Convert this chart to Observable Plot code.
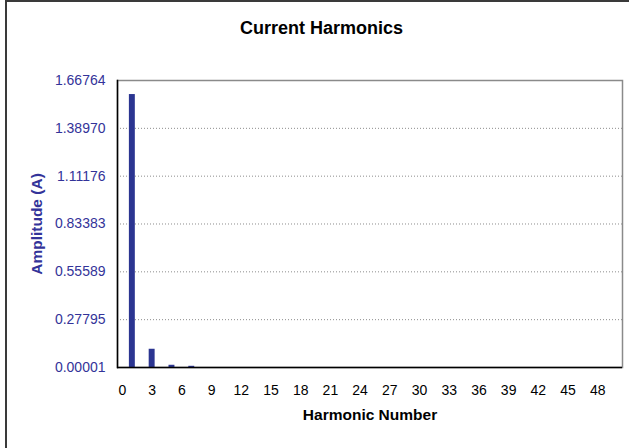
<!DOCTYPE html>
<html>
<head>
<meta charset="utf-8">
<script src="https://cdn.jsdelivr.net/npm/d3@7"></script>
<script src="https://cdn.jsdelivr.net/npm/@observablehq/plot@0.6"></script>
<style>
  body { margin: 0; background: #fff; font-family: "Liberation Sans", Arial, sans-serif; }
  #wrap { position: relative; width: 629px; height: 448px; overflow: hidden; background: #fff; }
  #border { position: absolute; left: 5px; top: 0px; width: 700px; height: 600px;
            border-left: 2px solid #3a3a3a; border-top: 2px solid #3a3a3a; pointer-events: none; }
  #title { height: 54px; line-height: 56px; text-align: center; padding-left: 14px;
           font-size: 18px; font-weight: bold; color: #000; }
  svg [aria-label="y-axis label"] { font-weight: bold; font-size: 15.5px; }
  svg [aria-label="x-axis label"] { font-weight: bold; font-size: 15.5px; }
</style>
</head>
<body>
<div id="wrap">
  <div id="title">Current Harmonics</div>
  <div id="chart"></div>
  <div id="border"></div>
</div>
<script>
// Harmonic numbers (categories)
const harmonics = [0,1,2,3,4,5,6,7,8,9,10,11,12,13,14,15,16,17,18,19,20,21,22,23,24,25,
                   26,27,28,29,30,31,32,33,34,35,36,37,38,39,40,41,42,43,44,45,46,47,48,49,50];
// Amplitude (A) per harmonic
const amplitudes = [0, 1.586, 0, 0.106, 0, 0.013, 0, 0.007, 0, 0, 0, 0, 0, 0, 0, 0, 0, 0, 0, 0,
                    0, 0, 0, 0, 0, 0, 0, 0, 0, 0, 0, 0, 0, 0, 0, 0, 0, 0, 0, 0,
                    0, 0, 0, 0, 0, 0, 0, 0, 0, 0, 0];
// Axis ticks
const xTicks = [0,3,6,9,12,15,18,21,24,27,30,33,36,39,42,45,48];
const yTicks = [0.00001, 0.27795, 0.55589, 0.83383, 1.11176, 1.38970, 1.66764];
const yTickLabels = ["0.00001","0.27795","0.55589","0.83383","1.11176","1.38970","1.66764"];
const gridTicks = [0.27795, 0.55589, 0.83383, 1.11176, 1.38970];

const data = harmonics.map((h, i) => ({h, a: amplitudes[i]}));

const chart = Plot.plot({
  width: 629,
  height: 394,
  marginTop: 26,
  marginBottom: 81,
  marginLeft: 117,
  marginRight: 7,
  style: { fontFamily: "'Liberation Sans', Arial, sans-serif", background: "transparent" },
  x: { type: "band", domain: harmonics, paddingInner: 0.4, paddingOuter: 0.2 },
  y: { domain: [yTicks[0], yTicks[yTicks.length - 1]] },
  marks: [
    Plot.ruleY(gridTicks, { stroke: "#8c8c8c", strokeDasharray: "1,2", strokeWidth: 1 }),
    Plot.frame({ stroke: "#8a8a8a", strokeWidth: 1.5 }),
    Plot.barY(data, { x: "h", y: "a", fill: "#2b3591" }),
    Plot.ruleY([yTicks[0]], { stroke: "#000", strokeWidth: 1.5 }),
    Plot.frame({ anchor: "left", stroke: "#000", strokeWidth: 1.5 }),
    Plot.axisY({
      ticks: yTicks,
      tickFormat: d => yTickLabels[yTicks.indexOf(d)],
      tickSize: 0,
      tickPadding: 12,
      fontSize: 14,
      fill: "#333399",
      label: "Amplitude (A)",
      labelAnchor: "center",
      labelArrow: "none",
      labelOffset: 87
    }),
    Plot.axisX({
      ticks: xTicks,
      tickSize: 0,
      tickPadding: 18,
      fontSize: 14,
      fill: "#000",
      label: "Harmonic Number",
      labelAnchor: "center",
      labelArrow: "none",
      labelOffset: 52
    })
  ]
});
document.getElementById("chart").appendChild(chart);
</script>
</body>
</html>
